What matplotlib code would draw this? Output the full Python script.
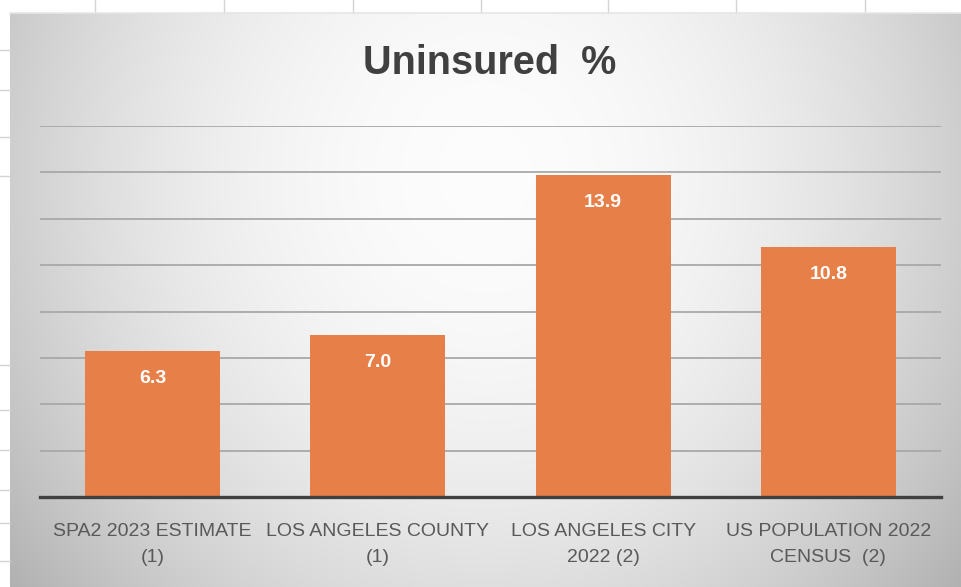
import numpy as np
import matplotlib
matplotlib.use("Agg")
import matplotlib.pyplot as plt
from matplotlib.lines import Line2D

# Uninsured rates (%)
categories = [
    "SPA2 2023 ESTIMATE\n(1)",
    "LOS ANGELES COUNTY\n(1)",
    "LOS ANGELES CITY\n2022 (2)",
    "US POPULATION 2022\nCENSUS  (2)",
]
uninsured = [6.3, 7.0, 13.9, 10.8]
y_ticks = [0, 2, 4, 6, 8, 10, 12, 14, 16]

BAR_COLOR = "#E77F48"
TEXT_GREY = "#595959"

label_font = ["Liberation Sans", "DejaVu Sans"]

W, H = 961, 587
fig = plt.figure(figsize=(W / 100, H / 100), dpi=100)
fig.patch.set_facecolor("white")

# sheet cell borders showing around the chart
for x in [95, 224, 353, 481, 608, 736, 865]:
    fig.add_artist(Line2D([x / W, x / W], [1, 1 - 13 / H], color="#d4d4d4", lw=1))
for y in [50, 90, 137, 176, 365, 410, 450, 490, 523, 561]:
    fig.add_artist(Line2D([0, 10 / W], [1 - y / H, 1 - y / H], color="#d4d4d4", lw=1))

# chart area with radial shading
bg = fig.add_axes([10 / W, 0, 1 - 10 / W, 1 - 13 / H], zorder=0)
xx, yy = np.meshgrid(np.linspace(0, 1, 400), np.linspace(0, 1, 300))
dx = (xx - 0.5) / 0.5
dy = (yy - 0.28) / 0.9
g = np.clip(0.99 - 0.18 * (dx ** 2 + dy ** 2), 0, 1)
bg.imshow(np.dstack([g, g, g]), aspect="auto", extent=[0, 1, 1, 0])
bg.set_axis_off()
fig.add_artist(Line2D([10 / W, 1], [1 - 13 / H, 1 - 13 / H], color="#e6e6e6", lw=1.2))

ax = fig.add_axes([40 / W, 1 - 497 / H, 901 / W, 371 / H], zorder=1)
ax.patch.set_alpha(0)

x = np.arange(len(categories))
bars = ax.bar(x, uninsured, width=0.6, color=BAR_COLOR, zorder=2)

ax.set_xlim(-0.5, len(categories) - 0.5)
ax.set_ylim(y_ticks[0], y_ticks[-1])
ax.set_yticks(y_ticks)
ax.yaxis.grid(True, color="#a8a8a8", lw=1.3)
ax.set_axisbelow(True)
ax.tick_params(axis="y", left=False, labelleft=False)
ax.tick_params(axis="x", bottom=False, pad=15)
for s in ["top", "right", "left"]:
    ax.spines[s].set_visible(False)
ax.spines["bottom"].set_color("#404040")
ax.spines["bottom"].set_linewidth(2.4)
ax.spines["bottom"].set_zorder(3)

ax.set_xticks(x)
ax.set_xticklabels(categories, family=label_font, fontsize=14,
                   color=TEXT_GREY, linespacing=1.75, va="top")

for rect, val in zip(bars, uninsured):
    ax.annotate(f"{val:.1f}", (rect.get_x() + rect.get_width() / 2, val),
                xytext=(0, -20), textcoords="offset points", ha="center",
                va="center", color="white", fontsize=14, fontweight="bold",
                family=["Liberation Sans", "DejaVu Sans"], zorder=4)

fig.text(490 / W, 1 - 63 / H, "Uninsured  %", ha="center", va="center",
         fontsize=28.5, fontweight="bold", color="#404040",
         family=["Liberation Sans", "DejaVu Sans"])

fig.savefig("out.png", dpi=100)
